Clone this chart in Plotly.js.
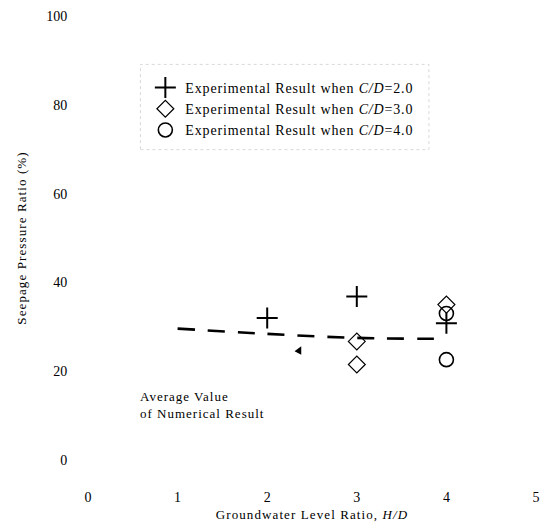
<!DOCTYPE html>
<html>
<head>
<meta charset="utf-8">
<script src="https://cdn.plot.ly/plotly-3.0.1.min.js"></script>
<style>
  body { margin: 0; background: #fff; }
  #chart { width: 555px; height: 526px; }
  .legendtext { letter-spacing: 0.85px; }
  .xtitle, .ytitle { letter-spacing: 1.1px; }
  .annotation-text { letter-spacing: 1px; }
</style>
</head>
<body>
<div id="chart"></div>
<script>
// Experimental results
const cd2X = [2, 3, 4];
const cd2Y = [32.0, 36.8, 30.8];
const cd3X = [3, 3, 4];
const cd3Y = [26.7, 21.5, 35.0];
const cd4X = [4, 4];
const cd4Y = [33.0, 22.6];
// Average value of numerical result
const numX = [1, 2, 3, 4];
const numY = [29.6, 28.4, 27.5, 27.3];

const seriesNames = [
  'Experimental Result when <i>C/D</i>=2.0',
  'Experimental Result when <i>C/D</i>=3.0',
  'Experimental Result when <i>C/D</i>=4.0'
];
const xTicks = [0, 1, 2, 3, 4, 5];
const yTicks = [0, 20, 40, 60, 80, 100];

const serif = '"Liberation Serif", "Times New Roman", serif';

const traces = [
  {
    x: cd2X, y: cd2Y, type: 'scatter', mode: 'markers', name: seriesNames[0],
    marker: { symbol: 'cross-thin-open', size: 15, color: '#000', line: { color: '#000', width: 2 } }
  },
  {
    x: cd3X, y: cd3Y, type: 'scatter', mode: 'markers', name: seriesNames[1],
    marker: { symbol: 'diamond-open', size: 13, color: '#000', line: { color: '#000', width: 1.2 } }
  },
  {
    x: cd4X, y: cd4Y, type: 'scatter', mode: 'markers', name: seriesNames[2],
    marker: { symbol: 'circle-open', size: 14, color: '#000', line: { color: '#000', width: 1.6 } }
  },
  {
    x: numX, y: numY, type: 'scatter', mode: 'lines', showlegend: false,
    line: { color: '#000', width: 2.6, dash: '17px,13px', shape: 'spline' }
  }
];

const layout = {
  width: 555, height: 526,
  margin: { l: 88, r: 19, t: 16, b: 66 },
  paper_bgcolor: '#fff', plot_bgcolor: '#fff',
  font: { family: serif, size: 14, color: '#000' },
  showlegend: true,
  legend: {
    x: 0.128, y: 0.874, xanchor: 'left', yanchor: 'top',
    bgcolor: 'rgba(0,0,0,0)', borderwidth: 0,
    font: { family: serif, size: 14, color: '#000' },
    tracegroupgap: 0
  },
  xaxis: {
    range: [0, 5], tickvals: xTicks, ticktext: xTicks.map(String),
    showgrid: false, zeroline: false, showline: false,
    ticks: 'outside', ticklen: 24, tickcolor: 'rgba(0,0,0,0)',
    tickfont: { family: serif, size: 14 },
    title: { text: 'Groundwater Level Ratio, <i>H/D</i>', font: { family: serif, size: 13 }, standoff: 6 }
  },
  yaxis: {
    range: [0, 100], tickvals: yTicks, ticktext: yTicks.map(String),
    showgrid: false, zeroline: false, showline: false,
    ticks: 'outside', ticklen: 17, tickcolor: 'rgba(0,0,0,0)',
    tickfont: { family: serif, size: 14 },
    title: { text: 'Seepage Pressure Ratio (%)', font: { family: serif, size: 13 }, standoff: 16 }
  },
  shapes: [
    {
      type: 'rect', xref: 'paper', yref: 'paper',
      x0: 0.117, x1: 0.761, y0: 0.699, y1: 0.891,
      line: { color: '#d8d8d8', width: 1, dash: 'dot' }
    }
  ],
  annotations: [
    {
      x: 0.56, y: 12.4, xref: 'x', yref: 'y', xanchor: 'left', yanchor: 'middle', align: 'left',
      text: 'Average Value<br>of Numerical Result', showarrow: false,
      font: { family: serif, size: 13, color: '#000' }
    },
    {
      x: 2.38, y: 25.6, xref: 'x', yref: 'y', text: '', showarrow: true,
      arrowhead: 2, arrowsize: 1, arrowwidth: 1.5, arrowcolor: '#000', ax: -3, ay: 6
    }
  ]
};

Plotly.newPlot('chart', traces, layout, { displayModeBar: false, staticPlot: true });
</script>
</body>
</html>
